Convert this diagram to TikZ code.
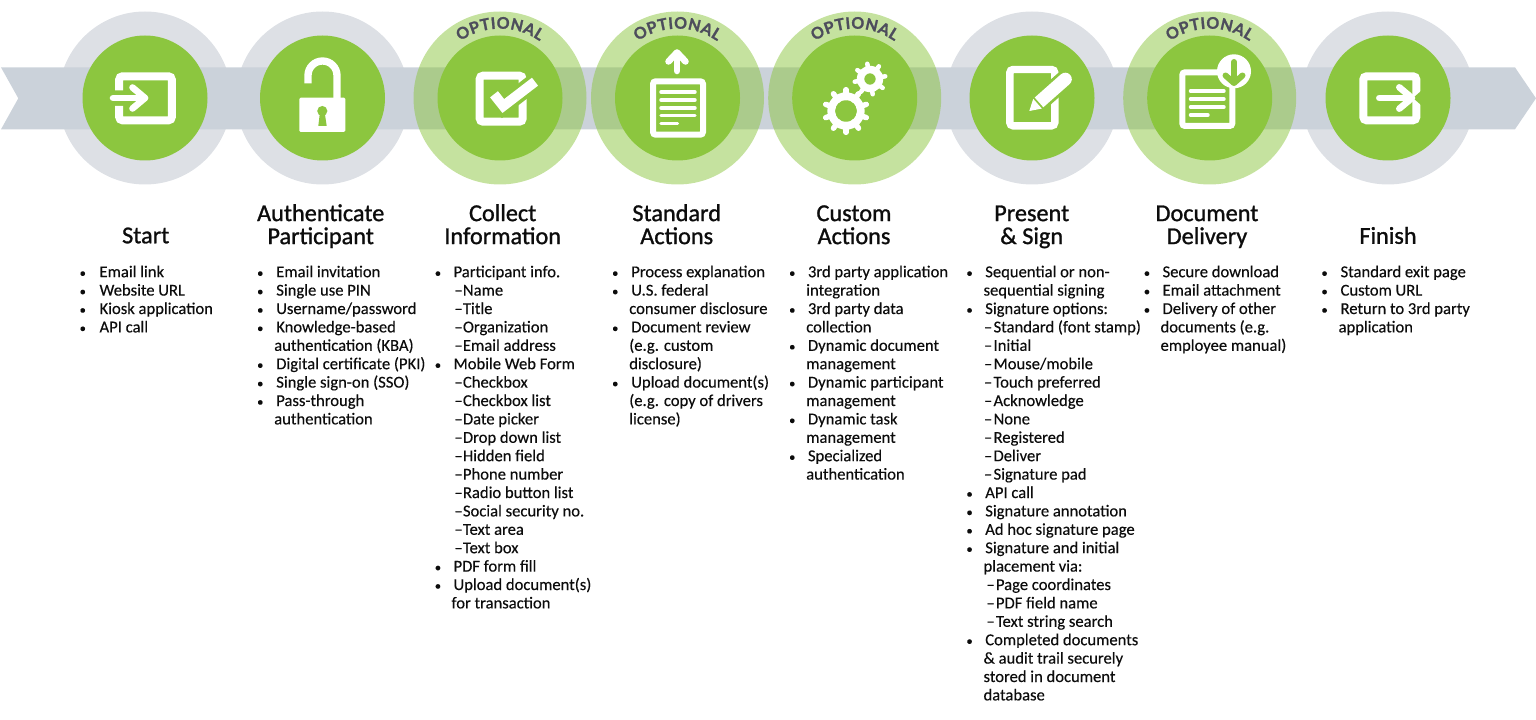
\documentclass[tikz,border=0pt]{standalone}
\usepackage{fontspec}
\setmainfont{Carlito}[FakeBold=0.3]
\newfontfamily\optfont{Lato}[BoldFeatures={FakeBold=1.2}]
\newfontfamily\titlefont{Carlito}[FakeBold=1.1]
\usetikzlibrary{decorations.text}
\definecolor{ringgrey}{HTML}{DDE0E5}
\definecolor{bandgrey}{HTML}{CBD2DA}
\definecolor{leaf}{HTML}{8CC63F}
\definecolor{optink}{HTML}{4D4D5C}
\definecolor{bodyink}{HTML}{0C0C0C}
\newdimen\ppx \ppx=0.75pt
\newcommand\lnB[1]{\rule{0pt}{10pt}\makebox[6\ppx][c]{\fontsize{9.5pt}{9.5pt}\selectfont •}\kern\dimexpr\offT\ppx-6\ppx\relax #1}
\newcommand\lnC[1]{\rule{0pt}{10pt}\kern\offC\ppx #1}
\newcommand\lnD[2][0]{\rule{0pt}{10pt}\kern\dimexpr\offD\ppx+#1\ppx\relax\makebox[\dimexpr\offE\ppx-\offD\ppx\relax][l]{–}#2}
\tikzset{
  greyring/.style={circle,fill=ringgrey,minimum size=129.75pt,inner sep=0pt},
  optring/.style={circle,fill=leaf,fill opacity=.5,minimum size=129.75pt,inner sep=0pt},
  core/.style={circle,fill=leaf,minimum size=93.75pt,inner sep=0pt},
  band/.style={fill=bandgrey},
  heavy/.style={draw=white,line width=6pt,rounded corners=2.5pt},
  sheet/.style={draw=white,line width=4.5pt,rounded corners=2pt},
  textline/.style={draw=white,line width=2.6pt,line cap=round},
  arrowstroke/.style={draw=white,line width=4.9pt,line cap=round,line join=round},
  cutstroke/.style={draw=leaf,line width=#1},
  tick/.style={draw=white,line width=7.5pt},
  optlabel/.style={decorate,decoration={text along path,text={|\optfont\bfseries\fontsize{12pt}{12pt}\selectfont\color{optink}|OPTIONAL},text align={fit to path}}},
  title/.style={anchor=north,inner sep=0pt,align=center,text=bodyink,font=\titlefont\fontsize{18.2pt}{17.25pt}\selectfont},
  listcol/.style n args={4}{anchor=north west,inner sep=0pt,align=left,text=bodyink,font=\fontsize{12.45pt}{13.8pt}\selectfont,
    execute at begin node={\gdef\offT{#1}\gdef\offC{#2}\gdef\offD{#3}\gdef\offE{#4}}}
}
\newcommand\ttl[1]{\rule{0pt}{13pt}#1}
\begin{document}
\begin{tikzpicture}[x=0.75pt,y=-0.75pt]
\useasboundingbox (0,0) rectangle (1536,720);
% grey rings behind the band
\node[greyring] (r1) at (145,98) {};
\node[greyring] (r2) at (322.5,98) {};
\node[greyring] (r6) at (1032,98) {};
\node[greyring] (r8) at (1388,98) {};
% band
\fill[band] (1,67.4) -- (1515,67.4) -- (1536,98.3) -- (1515,129.3) -- (1,129.3) -- (18.3,98.3) -- cycle;
% optional rings
\node[optring] (r3) at (500,98) {};
\node[optring] (r4) at (677.5,98) {};
\node[optring] (r5) at (854.7,98) {};
\node[optring] (r7) at (1209.7,98) {};
% cores
\foreach \n/\x in {c1/145,c2/322.5,c3/500,c4/677.5,c5/854.7,c6/1032,c7/1209.7,c8/1388}
  \node[core] (\n) at (\x,98) {};
% OPTIONAL labels
\foreach \n in {r3,r4,r5,r7}
  \path[optlabel] ([shift={(125:52pt)}]\n.center) arc (125:55:52pt);
% icon 1: enter
\draw[heavy] (119.2,90.5) -- (119.2,76.3) -- (171.8,76.3) -- (171.8,120.3) -- (119.2,120.3) -- (119.2,106);
\draw[arrowstroke] (113,98) -- (145,98);
\draw[arrowstroke] (132.5,87.5) -- (145,98) -- (132.5,108.5);
% icon 2: lock
\draw[draw=white,line width=5.5pt] (308,83.3) -- (308,75.5) arc (180:0:10.875pt) -- (337,99);
\fill[white,rounded corners=1pt] (299.3,97.7) rectangle (345.3,132);
\fill[leaf] (322.3,111) circle (3.8pt);
\fill[leaf] (320,112) -- (324.6,112) -- (326.7,126) -- (318.3,126) -- cycle;
% icon 3: checkbox
\draw[heavy] (479.7,75.7) rectangle (522.7,121.7);
\draw[cutstroke=13pt] (494,94.3) -- (503.3,106) -- (536,80.7);
\draw[tick] (494,94.3) -- (503.3,106) -- (535,81.7);
% icon 4: upload document
\draw[sheet] (653,81.3) rectangle (703,134.7);
\foreach \y in {92,100,108,115.7} \draw[textline] (661,\y) -- (695,\y);
\draw[textline] (661,123.3) -- (677.5,123.3);
\draw[arrowstroke] (677,71) -- (677,54);
\draw[arrowstroke] (668.5,61.5) -- (677,52.5) -- (685.5,61.5);
% icon 5: gears
\begin{scope}[shift={(846,111)}]
  \foreach \a in {90,126,162,198,234,270,306,342,378,414}
    \draw[draw=white,line width=4.1pt,line cap=round] (\a:10pt) -- (\a:16pt);
  \fill[white,even odd rule] circle (14pt) circle (8.25pt);
\end{scope}
\begin{scope}[shift={(870,79)}]
  \foreach \a in {10,55,100,145,190,235,280,325}
    \draw[draw=white,line width=3.4pt,line cap=round] (\a:7pt) -- (\a:11.6pt);
  \fill[white,even odd rule] circle (9.9pt) circle (4.3pt);
\end{scope}
% icon 6: document and pencil
\draw[heavy,line width=5.6pt] (1009.8,69.5) rectangle (1054.8,125.8);
\begin{scope}[shift={(1029.3,111)},rotate=41.5]
  \draw[cutstroke=14pt] (-1,0) -- (50,0);
  \fill[white] (0,0) -- (11,-6.5) -- (11,6.5) -- cycle;
  \fill[white] (13,-6.5) -- (48,-6.5) arc (90:-90:4.9pt) -- (13,6.5) -- cycle;
\end{scope}
% icon 7: download document
\draw[sheet] (1182.3,72.3) rectangle (1232.3,126);
\foreach \y in {91,99,107} \draw[textline] (1190.5,\y) -- (1224,\y);
\draw[textline] (1190.5,115) -- (1208,115);
\fill[white] (1234,71.3) circle (12.75pt);
\draw[draw=leaf,line width=4.5pt,line cap=round,line join=round] (1234,62) -- (1234,81);
\draw[draw=leaf,line width=4.5pt,line cap=round,line join=round] (1225.5,75.5) -- (1234,83) -- (1242.5,75.5);
% icon 8: exit
\draw[heavy] (1363.3,76.3) rectangle (1416.3,120.3);
\fill[leaf] (1421,91) -- (1413,98) -- (1421,105) -- cycle;
\draw[arrowstroke] (1379.3,98) -- (1411,98);
\draw[arrowstroke] (1399.3,87.3) -- (1412,98) -- (1399.3,108.7);
% titles
\node[title] (t1) at (145.7,225.7) {\ttl{Start}};
\node[title] (t2) at (320.7,203.5) {\ttl{Authenticate}\\\ttl{Participant}};
\node[title] (t3) at (502.7,203.5) {\ttl{Collect}\\\ttl{Information}};
\node[title] (t4) at (676.7,203.5) {\ttl{Standard}\\\ttl{Actions}};
\node[title] (t5) at (854,203.5) {\ttl{Custom}\\\ttl{Actions}};
\node[title] (t6) at (1031.7,203.5) {\ttl{Present}\\\ttl{\& Sign}};
\node[title] (t7) at (1207,203.5) {\ttl{Document}\\\ttl{Delivery}};
\node[title] (t8) at (1388,226.2) {\ttl{Finish}};
% lists
\node[listcol={19.8}{17}{19}{28}] (l1) at (79.5,263.6) {\lnB{Email link}\\\lnB{Website URL}\\\lnB{Kiosk application}\\\lnB{API call}};
\node[listcol={19}{17}{19}{28}] (l2) at (257,263.6) {\lnB{Email invitation}\\\lnB{Single use PIN}\\\lnB{Username/password}\\\lnB{Knowledge-based}\\\lnC{authentication (KBA)}\\\lnB{Digital certificate (PKI)}\\\lnB{Single sign-on (SSO)}\\\lnB{Pass-through}\\\lnC{authentication}};
\node[listcol={18.6}{16.6}{19.6}{28}] (l3) at (434.7,263.6) {\lnB{Participant info.}\\\lnD{Name}\\\lnD{Title}\\\lnD{Organization}\\\lnD{Email address}\\\lnB{Mobile Web Form}\\\lnD{Checkbox}\\\lnD{Checkbox list}\\\lnD{Date picker}\\\lnD{Drop down list}\\\lnD{Hidden field}\\\lnD{Phone number}\\\lnD{Radio button list}\\\lnD{Social security no.}\\\lnD{Text area}\\\lnD{Text box}\\\lnB{PDF form fill}\\\lnB{Upload document(s)}\\\lnC{for transaction}};
\node[listcol={19}{17}{19}{28}] (l4) at (612,263.6) {\lnB{Process explanation}\\\lnB{U.S. federal}\\\lnC{consumer disclosure}\\\lnB{Document review}\\\lnC{(e.g. custom}\\\lnC{disclosure)}\\\lnB{Upload document(s)}\\\lnC{(e.g. copy of drivers}\\\lnC{license)}};
\node[listcol={18.7}{17}{19}{28}] (l5) at (789,263.6) {\lnB{3rd party application}\\\lnC{integration}\\\lnB{3rd party data}\\\lnC{collection}\\\lnB{Dynamic document}\\\lnC{management}\\\lnB{Dynamic participant}\\\lnC{management}\\\lnB{Dynamic task}\\\lnC{management}\\\lnB{Specialized}\\\lnC{authentication}};
\node[listcol={18.7}{17}{17.5}{27}] (l6) at (966.3,263.6) {\lnB{Sequential or non-}\\\lnC{sequential signing}\\\lnB{Signature options:}\\\lnD{Standard (font stamp)}\\\lnD{Initial}\\\lnD{Mouse/mobile}\\\lnD{Touch preferred}\\\lnD{Acknowledge}\\\lnD{None}\\\lnD{Registered}\\\lnD{Deliver}\\\lnD{Signature pad}\\\lnB{API call}\\\lnB{Signature annotation}\\\lnB{Ad hoc signature page}\\\lnB{Signature and initial}\\\lnC{placement via:}\\\lnD[2.4]{Page coordinates}\\\lnD[2.4]{PDF field name}\\\lnD[2.4]{Text string search}\\\lnB{Completed documents}\\\lnC{\& audit trail securely}\\\lnC{stored in document}\\\lnC{database}};
\node[listcol={18.6}{16.6}{19}{28}] (l7) at (1143.7,263.6) {\lnB{Secure download}\\\lnB{Email attachment}\\\lnB{Delivery of other}\\\lnC{documents (e.g.}\\\lnC{employee manual)}};
\node[listcol={19}{17}{19}{28}] (l8) at (1321.3,263.6) {\lnB{Standard exit page}\\\lnB{Custom URL}\\\lnB{Return to 3rd party}\\\lnC{application}};
\end{tikzpicture}
\end{document}
